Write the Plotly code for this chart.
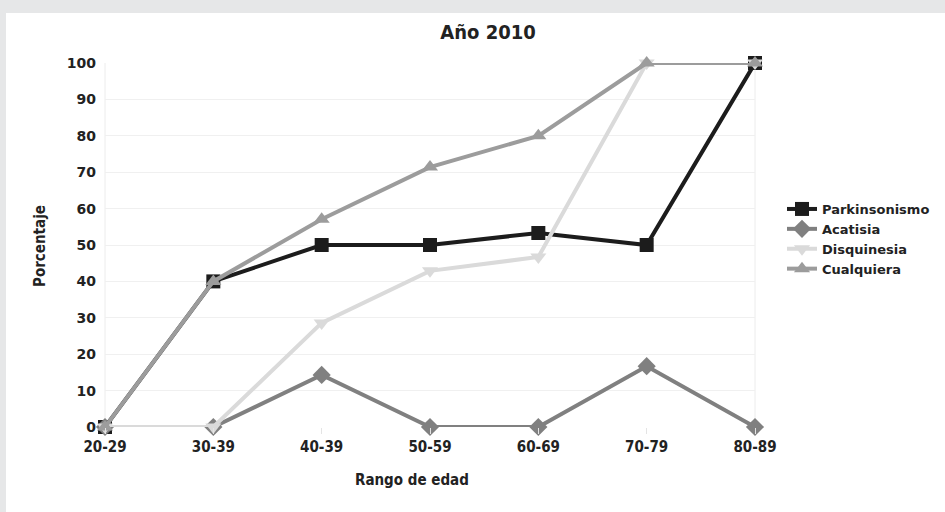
import plotly.graph_objects as go

# Age ranges and percentage of patients per adverse effect
rangos = ["20-29", "30-39", "40-39", "50-59", "60-69", "70-79", "80-89"]
parkinsonismo = [0, 40, 50, 50, 53.3, 50, 100]
acatisia = [0, 0, 14.3, 0, 0, 16.7, 0]
disquinesia = [0, 0, 28.6, 42.9, 46.7, 100, 100]
cualquiera = [0, 40, 57.1, 71.4, 80, 100, 100]
y_ticks = list(range(0, 101, 10))

series = [
    ("Parkinsonismo", parkinsonismo, "#1c1c1c", "square"),
    ("Acatisia", acatisia, "#808080", "diamond"),
    ("Disquinesia", disquinesia, "#dadada", "triangle-down"),
    ("Cualquiera", cualquiera, "#9c9c9c", "triangle-up"),
]

x_idx = list(range(len(rangos)))

fig = go.Figure()
for name, vals, color, sym in series:
    fig.add_trace(go.Scatter(
        x=x_idx, y=vals, name=name, mode="lines+markers",
        line=dict(color=color, width=4),
        marker=dict(symbol=sym, size=14, color=color),
        cliponaxis=False,
    ))

font_bold = "DejaVu Sans Condensed, DejaVu Sans, sans-serif"

fig.update_layout(
    width=945, height=512,
    paper_bgcolor="#e6e7e8",
    plot_bgcolor="white",
    margin=dict(l=105, r=190, t=63, b=85, autoexpand=False),
    showlegend=True,
    legend=dict(
        x=(782 - 105) / 650, xanchor="left", y=(427 - 194) / 364, yanchor="top",
        font=dict(family="DejaVu Sans, sans-serif", size=13, color="#222", weight="bold"),
        bgcolor="rgba(0,0,0,0)", itemwidth=30, tracegroupgap=0,
    ),
    title=dict(
        text="Año 2010", x=488 / 945, xanchor="center", y=1 - 32 / 512, yanchor="middle",
        font=dict(family=font_bold, size=20, color="#222", weight="bold"),
    ),
    xaxis=dict(
        range=[0, 6], tickmode="array", tickvals=x_idx, ticktext=rangos,
        showgrid=False, zeroline=False, showline=False,
        ticks="outside", ticklen=6, tickcolor="#e4e4e4",
        tickfont=dict(family=font_bold, size=15, color="#222", weight="bold"),
        mirror=False,
    ),
    yaxis=dict(
        range=[0, 100], tickvals=y_ticks,
        showgrid=True, gridcolor="#f0f0f0", gridwidth=1,
        zeroline=False, showline=False, ticks="",
        tickfont=dict(family="DejaVu Sans, sans-serif", size=14, color="#222", weight="bold"),
        ticklabelstandoff=8,
    ),
    shapes=[
        # white panel behind the chart
        dict(type="rect", xref="paper", yref="paper",
             x0=(6 - 105) / 650, x1=(945 - 105) / 650,
             y0=-85 / 364, y1=(427 - 13) / 364,
             fillcolor="white", line=dict(width=0), layer="below"),
        # plot area side borders
        dict(type="line", xref="paper", yref="paper", x0=0, x1=0, y0=0, y1=1,
             line=dict(color="#ececec", width=1), layer="below"),
        dict(type="line", xref="paper", yref="paper", x0=1, x1=1, y0=0, y1=1,
             line=dict(color="#ececec", width=1), layer="below"),
    ],
    annotations=[
        dict(text="Rango de edad", xref="paper", yref="paper",
             x=(412 - 105) / 650, y=-(480 - 427) / 364, xanchor="center", yanchor="middle",
             showarrow=False,
             font=dict(family=font_bold, size=15, color="#222", weight="bold")),
        dict(text="Porcentaje", xref="paper", yref="paper",
             x=-(105 - 40) / 650, y=(427 - 246) / 364, xanchor="center", yanchor="middle",
             textangle=-90, showarrow=False,
             font=dict(family=font_bold, size=15, color="#222", weight="bold")),
    ],
)

fig.write_html("out.html")
